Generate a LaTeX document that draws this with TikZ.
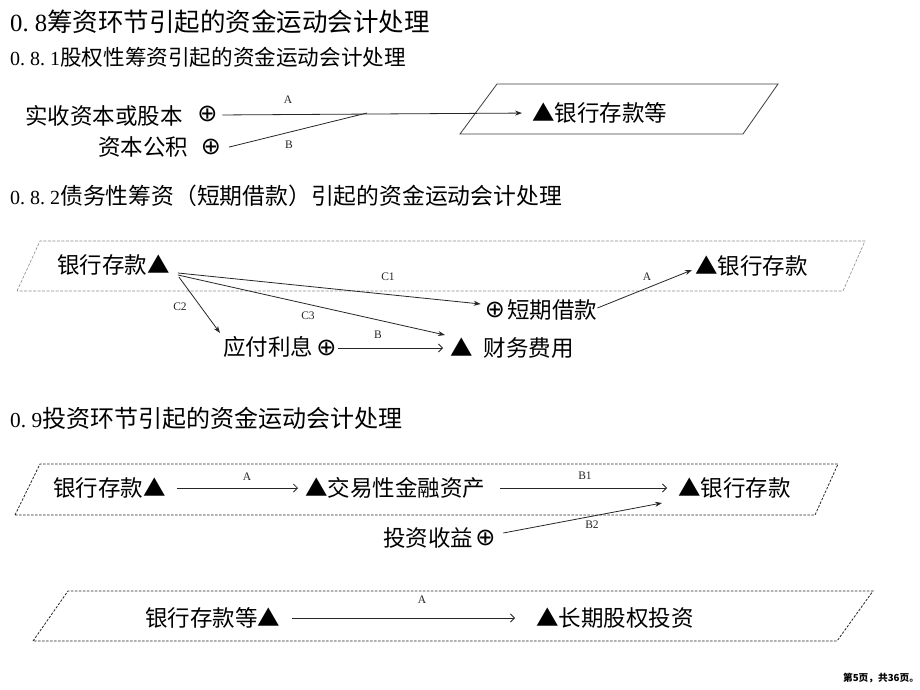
\documentclass[tikz,border=0pt]{standalone}
\usepackage{fontspec}
\setmainfont{Noto Sans CJK SC}
\newfontfamily\cjkf{Noto Sans CJK SC}
\newfontfamily\serf{Liberation Serif}
\newfontfamily\symf{DejaVu Sans}
\usetikzlibrary{arrows.meta}
\begin{document}
\begin{tikzpicture}[x=1pt,y=-1pt,
  txt/.style={anchor=west,inner sep=0pt,font=\cjkf\fontsize{22.5}{26}\selectfont,text=black},
  head/.style={anchor=west,inner sep=0pt,text=black},
  plus/.style={inner sep=0pt,font=\symf\fontsize{24}{26}\selectfont,text=black},
  lbl/.style={inner sep=0pt,font=\serf\fontsize{11.5}{13}\selectfont,text=black!85},
  con/.style={draw=black!85,line width=0.8pt},
  fa/.style={con,-{Stealth[length=7pt,width=5pt]}},
  oa/.style={con,-{Straight Barb[length=4pt,width=8pt]}},
  dashgrey/.style={draw=black!45,line width=0.6pt,dash pattern=on 3pt off 1.5pt},
  dashblk/.style={draw=black!85,line width=0.8pt,dash pattern=on 2.5pt off 1.5pt},
  solidpar/.style={draw=black!75,line width=0.8pt}
]
\useasboundingbox (0,0) rectangle (920,690);
\fill[white] (0,0) rectangle (920,690);

% ---------- headings ----------
\node[head] (h1) at (10,22) {\serf\fontsize{24.7}{30}\selectfont 0.\ 8\cjkf\fontsize{25.5}{30}\selectfont 筹资环节引起的资金运动会计处理};
\node[head] (h2) at (10,57) {\serf\fontsize{20}{26}\selectfont 0.\ 8.\ 1\cjkf\fontsize{21.6}{26}\selectfont 股权性筹资引起的资金运动会计处理};
\node[head] (h3) at (10,196) {\serf\fontsize{20}{26}\selectfont 0.\ 8.\ 2\cjkf\fontsize{22.8}{26}\selectfont 债务性筹资（短期借款）引起的资金运动会计处理};
\node[head] (h4) at (10,418) {\serf\fontsize{21.3}{26}\selectfont 0.\ 9\cjkf\fontsize{24}{28}\selectfont 投资环节引起的资金运动会计处理};

% ---------- section 0.8.1 ----------
\draw[solidpar] (460,134) -- (497,84) -- (778,84) -- (743,134) -- cycle;
\node[txt] (a1) at (25,116) {实收资本或股本};
\node[plus] (pa) at (207.5,114) {⊕};
\node[txt] (a2) at (98,147) {资本公积};
\node[plus] (pb) at (211,147) {⊕};
\node[txt] (bk1) at (532,113) {▲银行存款等};
\coordinate (j) at (367,113);
\draw[con, shorten <=8pt] ([yshift=-2pt]pb.east) -- (j);
\draw[fa, shorten <=4.5pt, shorten >=10pt] ([yshift=-1pt]pa.east) -- (bk1.west);
\node[lbl] (la1) at (288,100) {A};
\node[lbl] (lb1) at (289,145) {B};

% ---------- section 0.8.2 ----------
\draw[dashgrey] (17,291) -- (40,241) -- (865,241) -- (843,291) -- cycle;
\node[txt] (bk2) at (57,265) {银行存款▲};
\node[txt] (yf) at (223,347) {应付利息};
\node[plus] (pyf) at (326.5,348) {⊕};
\node[txt] (cw) at (450,348) {▲\hspace{11pt}财务费用};
\node[plus] (pdq) at (495,310) {⊕};
\node[txt] (dq) at (507,310) {短期借款};
\node[txt] (bk3) at (695,266) {▲银行存款};
\draw[fa] ([shift={(8,8)}]bk2.east) -- ([shift={(-4,-6)}]pdq.west);
\draw[fa] ([shift={(9,12)}]bk2.east) -- ([shift={(-3,-14)}]yf.west);
\draw[fa] ([shift={(8,10)}]bk2.east) -- ([shift={(-5,-13)}]cw.west);
\draw[oa, shorten <=1.5pt, shorten >=7pt] (pyf.east) -- (cw.west);
\draw[fa] ([shift={(0,-2)}]dq.east) -- ([shift={(-3,4)}]bk3.west);
\node[lbl] (lc1) at (388,277) {C1};
\node[lbl] (lc2) at (180,307) {C2};
\node[lbl] (lc3) at (308,316) {C3};
\node[lbl] (lb2) at (378,335) {B};
\node[lbl] (la2) at (647,277) {A};

% ---------- section 0.9 ----------
\draw[dashblk] (15,515) -- (40,464) -- (838,464) -- (815,515) -- cycle;
\node[txt] (bk4) at (53,488) {银行存款▲};
\node[txt] (jy) at (305,488) {▲交易性金融资产};
\node[txt] (bk5) at (678,488) {▲银行存款};
\node[txt] (tz) at (383,538) {投资收益};
\node[plus] (ptz) at (485.5,538) {⊕};
\draw[oa, shorten <=11pt, shorten >=7pt] (bk4.east) -- (jy.west);
\draw[oa, shorten <=15pt, shorten >=11pt] (jy.east) -- (bk5.west);
\draw[fa] ([shift={(7.5,-5)}]ptz.east) -- ([shift={(-16,15)}]bk5.west);
\node[lbl] (la3) at (247,477) {A};
\node[lbl] (lb31) at (585,476) {B1};
\node[lbl] (lb32) at (592,525) {B2};

% ---------- bottom ----------
\draw[dashblk] (33,641) -- (68,591) -- (873,591) -- (837,641) -- cycle;
\node[txt] (bk6) at (145,618) {银行存款等▲};
\node[txt] (cq) at (536,618) {▲长期股权投资};
\draw[oa, shorten <=12pt, shorten >=21pt] (bk6.east) -- (cq.west);
\node[lbl] (la4) at (422,600) {A};

\node[inner sep=0pt,font=\cjkf\bfseries\fontsize{9.7}{11}\selectfont] (pg) at (881,678) {第5页，共36页。};
\end{tikzpicture}
\end{document}
